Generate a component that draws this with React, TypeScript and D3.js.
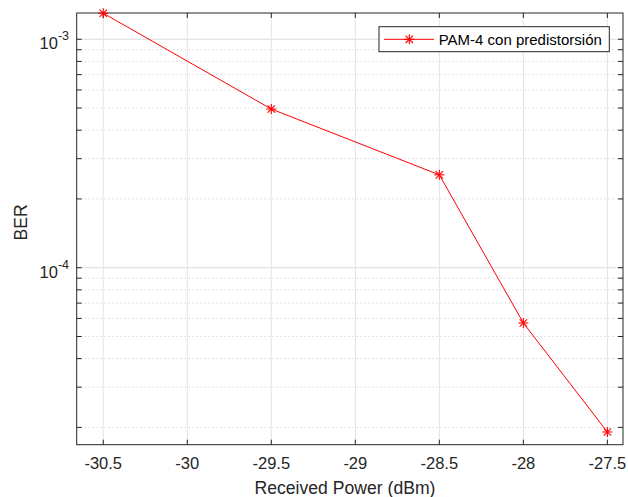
import React from 'react';
import * as d3 from 'd3';

// BER vs received power, PAM-4 with predistortion (MATLAB-style semilogy)

const power = [-30.5, -29.5, -28.5, -28, -27.5];
const ber = [1.3e-3, 4.95e-4, 2.55e-4, 5.73e-5, 1.91e-5];

const xTicks = [-30.5, -30, -29.5, -29, -28.5, -28, -27.5];
const yMajor = [1e-4, 1e-3];
const yMinor = [2, 3, 4, 5, 6, 7, 8, 9].flatMap(m => [m * 1e-5, m * 1e-4]);
const yExp = ['-4', '-3'];

const seriesName = 'PAM-4 con predistorsión';
const xLabel = 'Received Power (dBm)';
const yLabel = 'BER';

const W = 628;
const H = 497;
const box = { left: 76.7, right: 623, top: 13, bottom: 444.7 };
const font = '"Liberation Sans", Arial, Helvetica, sans-serif';
const ink = '#262626';

const Star = ({ cx, cy }: { cx: number; cy: number }) => {
  const a = 5;
  const d = 3.7;
  return (
    <g stroke="#ff0000" strokeWidth={1.1}>
      <line x1={cx - a} y1={cy} x2={cx + a} y2={cy} />
      <line x1={cx} y1={cy - a} x2={cx} y2={cy + a} />
      <line x1={cx - d} y1={cy - d} x2={cx + d} y2={cy + d} />
      <line x1={cx - d} y1={cy + d} x2={cx + d} y2={cy - d} />
    </g>
  );
};

const App = () => {
  const x = d3.scaleLinear().domain([-30.658, -27.407]).range([box.left, box.right]);
  const y = d3.scaleLog().domain([1.68e-5, 1.303e-3]).range([box.bottom, box.top]);

  const line = d3
    .line<number>()
    .x((_, i) => x(power[i]))
    .y(d => y(d));

  const tick = 5;

  return (
    <svg
      width={W}
      height={H}
      style={{ position: 'absolute', left: 0, top: 0, background: '#fff' }}
      fontFamily={font}
    >
      {/* grid */}
      {yMinor.map(v => (
        <line key={'mg' + v} x1={box.left} x2={box.right} y1={y(v)} y2={y(v)}
          stroke="#c4c4c4" strokeWidth={1} strokeDasharray="1 3" />
      ))}
      {yMajor.map(v => (
        <line key={'yg' + v} x1={box.left} x2={box.right} y1={y(v)} y2={y(v)}
          stroke="#dcdcdc" strokeWidth={1} />
      ))}
      {xTicks.map(v => (
        <line key={'xg' + v} x1={x(v)} x2={x(v)} y1={box.top} y2={box.bottom}
          stroke="#e3e3e3" strokeWidth={1} />
      ))}

      {/* ticks (inward, all sides) */}
      <g stroke={ink} strokeWidth={1}>
        {xTicks.map(v => (
          <g key={'xt' + v}>
            <line x1={x(v)} x2={x(v)} y1={box.bottom} y2={box.bottom - tick} />
            <line x1={x(v)} x2={x(v)} y1={box.top} y2={box.top + tick} />
          </g>
        ))}
        {[...yMajor, ...yMinor].map(v => (
          <g key={'yt' + v}>
            <line x1={box.left} x2={box.left + tick} y1={y(v)} y2={y(v)} />
            <line x1={box.right} x2={box.right - tick} y1={y(v)} y2={y(v)} />
          </g>
        ))}
      </g>

      {/* axes box */}
      <rect x={box.left} y={box.top} width={box.right - box.left} height={box.bottom - box.top}
        fill="none" stroke={ink} strokeWidth={1} />

      {/* tick labels */}
      {xTicks.map(v => (
        <text key={'xl' + v} x={x(v)} y={469} textAnchor="middle" fontSize={16.5} fill={ink}>
          {String(v)}
        </text>
      ))}
      {yMajor.map((v, i) => (
        <text key={'yl' + v} x={69} y={y(v) + 10} textAnchor="end" fontSize={16.5} fill={ink}>
          10<tspan dy={-9} fontSize={12.5}>{yExp[i]}</tspan>
        </text>
      ))}

      {/* axis labels */}
      <text x={345} y={494} textAnchor="middle" fontSize={17.6} fill={ink}>{xLabel}</text>
      <text transform={`translate(26.5, 222.5) rotate(-90)`} textAnchor="middle" fontSize={17.6} fill={ink}>
        {yLabel}
      </text>

      {/* series */}
      <path d={line(ber) ?? ''} fill="none" stroke="#ff0000" strokeWidth={1} />
      {ber.map((v, i) => (
        <Star key={'m' + i} cx={x(power[i])} cy={y(v)} />
      ))}

      {/* legend */}
      <rect x={379} y={26.7} width={230.3} height={25} fill="#fff" stroke={ink} strokeWidth={1} />
      <line x1={384} x2={434} y1={39.3} y2={39.3} stroke="#ff0000" strokeWidth={1} />
      <Star cx={409.3} cy={39.3} />
      <text x={438.7} y={44.6} fontSize={15} fill="#000">{seriesName}</text>
    </svg>
  );
};

export default App;
